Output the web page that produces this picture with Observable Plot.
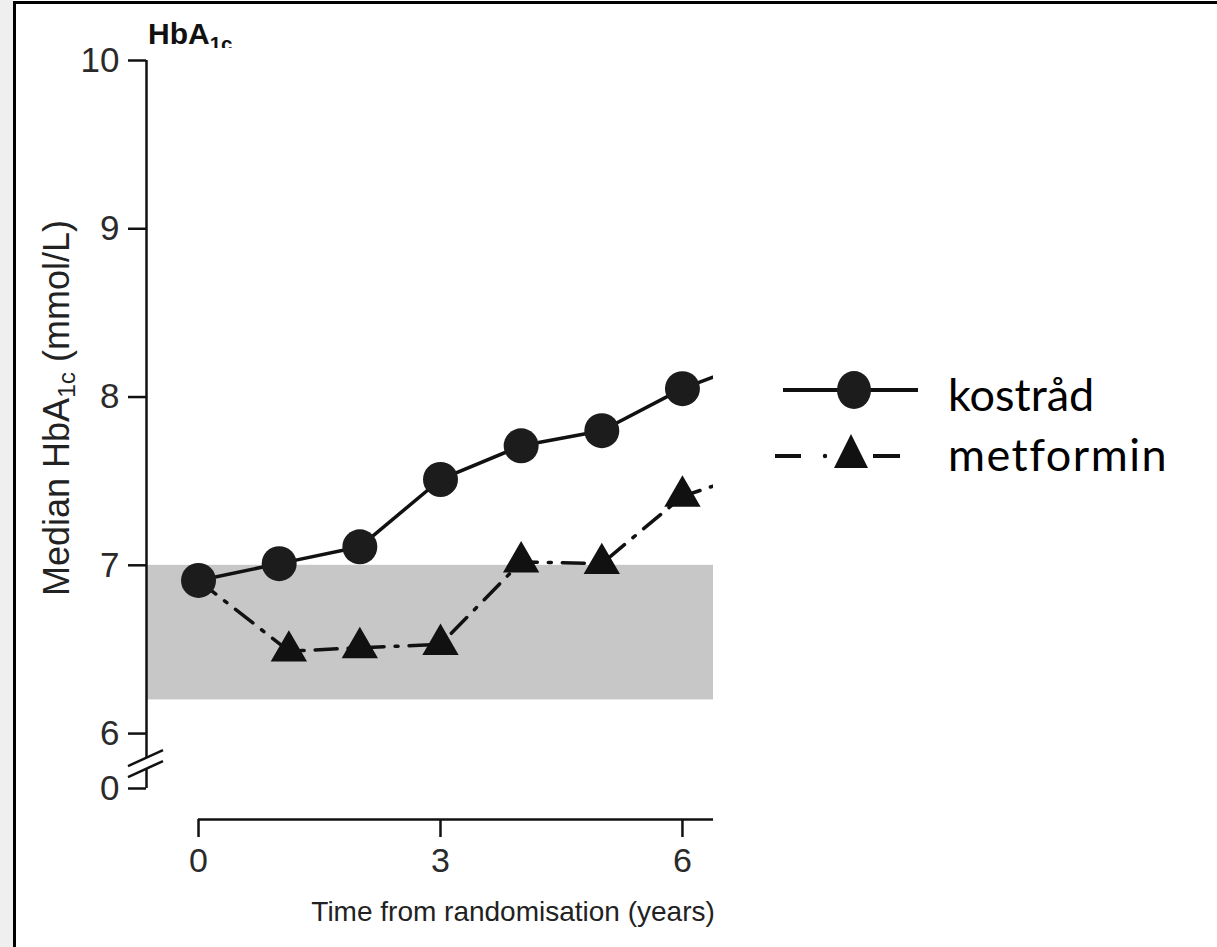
<!DOCTYPE html>
<html>
<head>
<meta charset="utf-8">
<script src="https://cdn.jsdelivr.net/npm/d3@7"></script>
<script src="https://cdn.jsdelivr.net/npm/@observablehq/plot@0.6"></script>
<style>
  html, body { margin: 0; padding: 0; background: #fff; }
  #page { position: relative; width: 1217px; height: 947px; overflow: hidden; background: #fff; }
  #strip { position: absolute; left: 0; top: 0; width: 13px; height: 947px; background: #efefef; }
  #vline { position: absolute; left: 13px; top: 1px; width: 3px; height: 946px; background: #000; }
  #hline { position: absolute; left: 13px; top: 1px; width: 1204px; height: 3px; background: #000; }
  #chart { position: absolute; left: 0; top: 0; }
  #chart svg { background: transparent; }
  .ylab { position: absolute; left: 57px; top: 408px; transform: translate(-50%, -50%) rotate(-90deg);
          white-space: nowrap; font-family: "Liberation Sans", Arial, sans-serif; font-size: 36px; color: #222; }
  .ylab sub { font-size: 0.68em; vertical-align: -0.25em; line-height: 0; }
  .ttl { position: absolute; left: 148px; top: 19px; height: 29px; overflow: hidden; white-space: nowrap;
         font-family: "Liberation Sans", Arial, sans-serif; font-weight: bold; font-size: 30px; color: #111; line-height: 30px; }
  .ttl sub { font-size: 0.68em; vertical-align: -0.35em; line-height: 0; }
  .leg { position: absolute; font-family: Lato, "Open Sans", sans-serif; font-size: 45px; color: #000; white-space: nowrap; }
  .legsym { position: absolute; }
</style>
</head>
<body>
<div id="page">
  <div id="strip"></div>
  <div id="vline"></div>
  <div id="hline"></div>
  <div id="chart"></div>
  <div class="ttl">HbA<sub>1c</sub></div>
  <div class="ylab">Median HbA<sub>1c</sub> (mmol/L)</div>
  <svg class="legsym" style="left:770px;top:368px" width="160" height="110" viewBox="0 0 160 110">
    <line x1="13" y1="22" x2="148" y2="22" stroke="#111" stroke-width="4"/>
    <ellipse cx="84" cy="22" rx="17" ry="19" fill="#1c1c1c"/>
    <line x1="5" y1="88" x2="31" y2="88" stroke="#111" stroke-width="4"/>
    <circle cx="55" cy="88" r="2.2" fill="#111"/>
    <path d="M81,66 L98,100 L64,100 Z" fill="#111"/>
    <line x1="103" y1="88" x2="130" y2="88" stroke="#111" stroke-width="4"/>
  </svg>
  <div class="leg" id="leg1" style="left:948px;top:367px">kostråd</div>
  <div class="leg" id="leg2" style="left:948px;top:427px;letter-spacing:1.5px">metformin</div>
</div>
<script>
// ---- data ----
const kostradYears    = [0, 1, 2, 3, 4, 5, 6, 7];
const kostradValues   = [6.91, 7.01, 7.11, 7.51, 7.71, 7.80, 8.05, 8.23];
const metforminYears  = [0, 1.12, 2, 3, 4, 5, 6, 7];
const metforminValues = [6.91, 6.49, 6.51, 6.53, 7.02, 7.01, 7.41, 7.57];
const targetBand      = [6.2, 7.0];
const yTicks          = [0, 6, 7, 8, 9, 10];
const xTicks          = [0, 3, 6];
const yBreak          = [2.07, 3.27];   // gap in the y axis (between 0 and 6)
const xDomain         = [-0.645, 6.385];

// broken y axis: 0..6 is squeezed into a short stub below 6
const squeeze = 0.0544;
const brk = v => (v >= 6 ? v : 6 - (6 - v) * squeeze);
const unbrk = t => (t >= 6 ? t : 6 - (6 - t) / squeeze);

const kostrad   = kostradYears.map((t, i) => ({t, v: kostradValues[i]}));
const metformin = metforminYears.map((t, i) => ({t, v: metforminValues[i]}));

const chart = Plot.plot({
  width: 1217,
  height: 947,
  marginLeft: 146,
  marginRight: 504,
  marginTop: 58,
  marginBottom: 128,
  style: {background: "transparent", color: "#222", fontFamily: "'Liberation Sans', Arial, sans-serif"},
  x: {domain: xDomain, range: [146, 713]},
  y: {domain: [brk(0), 10], range: [788, 60]},
  marks: [
    Plot.rect([targetBand], {y1: d => brk(d[0]), y2: d => brk(d[1]), fill: "#c7c7c7"}),
    Plot.ruleX([xDomain[0]], {y1: brk(yBreak[1]), y2: 10, stroke: "#111", strokeWidth: 2.5}),
    Plot.ruleX([xDomain[0]], {y1: brk(0), y2: brk(yBreak[0]), stroke: "#111", strokeWidth: 2.5}),
    Plot.axisY(yTicks.map(brk), {anchor: "left", tickSize: 18, tickPadding: 9, fontSize: 35, strokeWidth: 2.5,
      stroke: "#111", fill: "#2a2a2a", label: null, tickFormat: t => String(Math.round(unbrk(t)))}),
    Plot.ruleY([brk(0)], {x1: 0, x2: xDomain[1], dy: 31, stroke: "#111", strokeWidth: 2.5}),
    Plot.axisX(xTicks, {anchor: "bottom", tickSize: 18, tickPadding: 10, fontSize: 34, strokeWidth: 2.5,
      stroke: "#111", fill: "#2a2a2a", label: null}),
    Plot.line(metformin, {x: "t", y: d => brk(d.v), stroke: "#111", strokeWidth: 3.5, strokeDasharray: "22,11,3,11", clip: true}),
    Plot.line(kostrad, {x: "t", y: d => brk(d.v), stroke: "#111", strokeWidth: 3.5, clip: true}),
    Plot.dot(metformin.slice(1), {x: "t", y: d => brk(d.v), symbol: "triangle", r: 13.5, fill: "#111", stroke: "none", clip: true}),
    Plot.dot(kostrad, {x: "t", y: d => brk(d.v), r: 17.5, fill: "#1c1c1c", stroke: "none", clip: true}),
    Plot.text(["Time from randomisation (years)"], {frameAnchor: "bottom", dy: 101, x: 3.9, text: d => d, fontSize: 28,
      fill: "#222", lineAnchor: "bottom", textAnchor: "middle"})
  ]
});
document.getElementById("chart").appendChild(chart);

// axis-break slashes, positioned through the plot's own scales
const sx = chart.scale("x"), sy = chart.scale("y");
const ax = sx.apply(xDomain[0]);
d3.select(chart).append("g")
  .attr("stroke", "#111").attr("stroke-width", 2.5)
  .selectAll("line").data(yBreak).join("line")
  .attr("x1", ax - 18).attr("x2", ax + 17)
  .attr("y1", d => sy.apply(brk(d)) + 8).attr("y2", d => sy.apply(brk(d)) - 8);
</script>
</body>
</html>
